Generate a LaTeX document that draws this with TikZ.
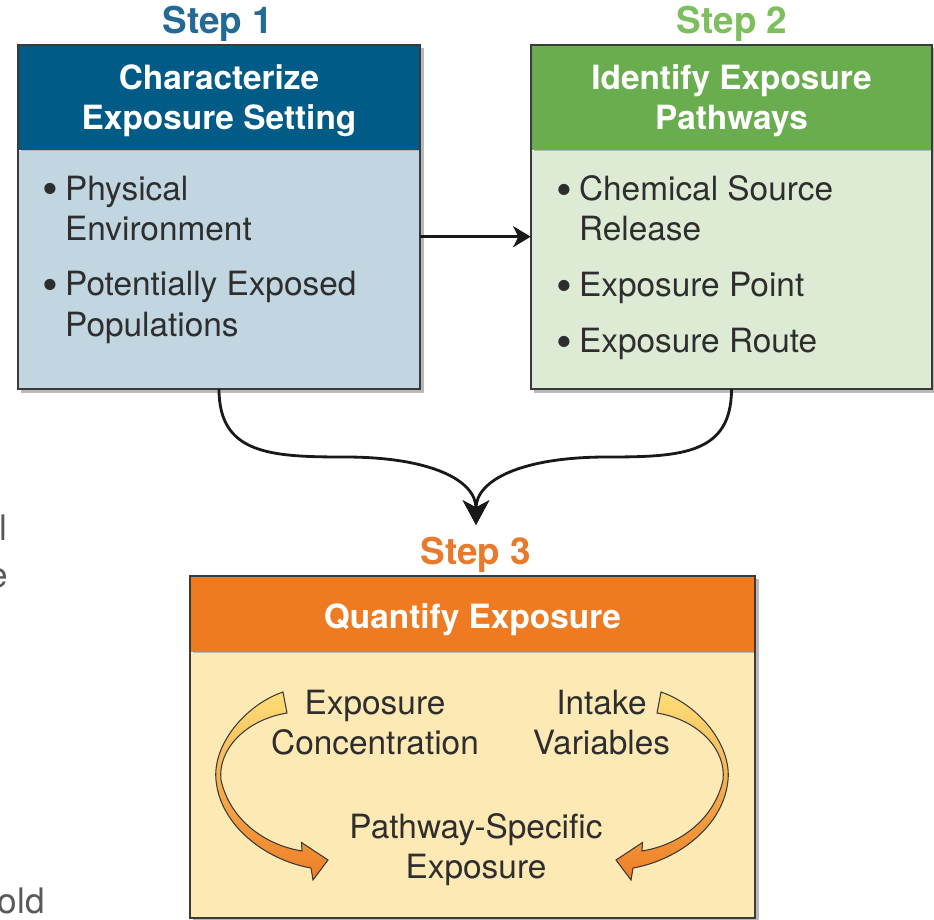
\documentclass[tikz,border=0pt]{standalone}
\usepackage{fontspec}
\setmainfont{TeX Gyre Heros}
\usepackage{xcolor}
\usetikzlibrary{arrows.meta,positioning,calc,shadows,backgrounds}
\definecolor{blueHead}{HTML}{005C87}
\definecolor{blueBody}{HTML}{C1D6E0}
\definecolor{blueStep}{HTML}{236A95}
\definecolor{greenHead}{HTML}{6AAD4E}
\definecolor{greenBody}{HTML}{DDEBD5}
\definecolor{greenStep}{HTML}{7DBE5E}
\definecolor{orangeHead}{HTML}{EE7B22}
\definecolor{orangeBody}{HTML}{FCE9B3}
\definecolor{orangeStep}{HTML}{EA7A2B}
\definecolor{curlTop}{HTML}{FDDE78}
\definecolor{curlBot}{HTML}{EE7D25}
\definecolor{frameGray}{HTML}{3A3A3A}
\definecolor{txtGray}{HTML}{2E2E2E}
\newcommand{\headfont}{\bfseries\fontsize{19}{22.8}\selectfont}
\newcommand{\bodyfont}{\fontsize{19}{22.8}\selectfont}
\newcommand{\bul}{\makebox[0.69em][l]{\raisebox{-0.14em}{\scalebox{1.35}{\textbullet}}}}

\tikzset{
  steplbl/.style={font=\bfseries\fontsize{21}{24}\selectfont, inner sep=0pt},
  headbox/.style={minimum height=2.1cm, inner sep=0pt, text=white, text depth=0pt,
    font=\headfont, align=center},
  bodybox/.style={minimum height=4.76cm, inner sep=0pt},
  itemtxt/.style={font=\bodyfont, text=txtGray, align=left, inner sep=0pt},
  midtxt/.style={font=\bodyfont, text=txtGray, align=center, inner sep=0pt},
  edgetxt/.style={font=\fontsize{20}{24}\selectfont, text=black!65, inner sep=0pt},
  frame/.style={draw=frameGray, line width=1.1pt},
  boxshadow/.style={fill=black, opacity=0.28},
  conn/.style={->, line width=1.6pt, black!90},
  curl/.style={top color=curlTop, bottom color=curlBot, draw=frameGray, line width=0.6pt}
}

\begin{document}
\begin{tikzpicture}[>={Stealth[length=10pt,width=12pt,inset=3pt]}]
  \useasboundingbox (0,0) rectangle (18.68,-18.4);
  % cut-off words of the page text at the left margin
  \node[edgetxt, anchor=base west] (frag1) at (-0.02,-10.8) {l};
  \node[edgetxt, anchor=base east] (frag2) at (0.16,-11.74) {e};
  \node[edgetxt, anchor=base east] (frag3) at (0.9,-18.26) {old};

  % step 1
  \node[steplbl, text=blueStep] (st1) at (4.36,-0.48) {Step 1};
  \node[headbox, fill=blueHead, minimum width=8.04cm] (s1h) at (4.38,-1.95)
    {Characterize\\Exposure Setting};
  \node[bodybox, fill=blueBody, minimum width=8.04cm, below=0pt of s1h] (s1b) {};
  \node[itemtxt, anchor=north west] (s1t) at ([xshift=0.48cm,yshift=-0.5cm]s1b.north west)
    {\bul Physical\\\phantom{\bul}Environment\\[9pt]\bul Potentially Exposed\\\phantom{\bul}Populations};

  % step 2
  \node[steplbl, text=greenStep] (st2) at (14.64,-0.48) {Step 2};
  \node[headbox, fill=greenHead, minimum width=8.02cm] (s2h) at (14.63,-1.95)
    {Identify Exposure\\Pathways};
  \node[bodybox, fill=greenBody, minimum width=8.02cm, below=0pt of s2h] (s2b) {};
  \node[itemtxt, anchor=north west] (s2t) at ([xshift=0.5cm,yshift=-0.5cm]s2b.north west)
    {\bul Chemical Source\\\phantom{\bul}Release\\[9pt]\bul Exposure Point\\[9pt]\bul Exposure Route};

  % step 3
  \node[steplbl, text=orangeStep] (st3) at (9.52,-11.1) {Step 3};
  \node[headbox, fill=orangeHead, minimum width=11.3cm, minimum height=1.52cm] (s3h) at (9.45,-12.28)
    {\raisebox{-2pt}{Quantify Exposure}};
  \node[bodybox, fill=orangeBody, minimum width=11.3cm, minimum height=5.3cm, below=0pt of s3h] (s3b) {};
  \node[midtxt] (conc) at (7.5,-14.46) {Exposure\\Concentration};
  \node[midtxt] (intk) at (12.03,-14.46) {Intake\\Variables};
  \node[midtxt] (pexp) at (9.52,-17.0) {Pathway-Specific\\Exposure};

  % shadows and frames
  \begin{pgfonlayer}{background}
    \fill[boxshadow] ([shift={(2pt,-2pt)}]s1h.north west) rectangle ([shift={(2pt,-2pt)}]s1b.south east);
    \fill[boxshadow] ([shift={(2pt,-2pt)}]s2h.north west) rectangle ([shift={(2pt,-2pt)}]s2b.south east);
    \fill[boxshadow] ([shift={(2pt,-2pt)}]s3h.north west) rectangle ([shift={(2pt,-2pt)}]s3b.south east);
  \end{pgfonlayer}
  \draw[frame] (s1h.north west) rectangle (s1b.south east);
  \draw[frame] (s2h.north west) rectangle (s2b.south east);
  \draw[frame] (s3h.north west) rectangle (s3b.south east);

  % connectors
  \draw[conn] ([yshift=0.66cm]s1b.east) -- ([yshift=0.66cm]s2b.west);
  \coordinate (merge) at (9.52,-10.5);
  \draw[conn, -{Stealth[length=14pt,width=15pt,inset=4pt]}] (s1b.south)
    .. controls +(0,-1.3) and +(-1.5,0) .. (6.9,-9.14)
    .. controls +(1.7,0) and +(0,0.9) .. (merge);
  \draw[conn, -{Stealth[length=14pt,width=15pt,inset=4pt]}] (s2b.south)
    .. controls +(0,-1.3) and +(1.5,0) .. (12.14,-9.14)
    .. controls +(-1.7,0) and +(0,0.9) .. (merge);

  % curled arrows inside step 3
  \foreach \sx/\dx in {1/0, -1/18.88}{
    \begin{scope}[xshift=\dx cm, xscale=\sx]
      \shadedraw[curl] (5.66,-13.84) .. controls (4.9,-14.1) and (4.25,-14.9) .. (4.32,-15.6)
        .. controls (4.4,-16.5) and (5.3,-17.2) .. (6.22,-17.36) -- (6.26,-17.6) -- (6.56,-17.2)
        -- (6.03,-16.85) -- (6.04,-17.02) .. controls (5.3,-16.9) and (4.6,-16.4) .. (4.42,-15.6)
        .. controls (4.35,-15.0) and (4.9,-14.4) .. (5.74,-14.26) -- cycle;
    \end{scope}
  }
\end{tikzpicture}
\end{document}
